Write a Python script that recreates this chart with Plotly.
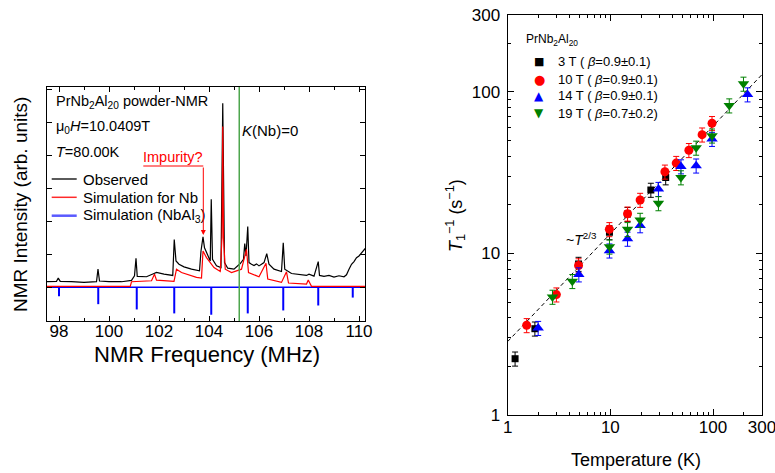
import plotly.graph_objects as go

W, H = 775, 473
FONT = "Liberation Sans, Arial, sans-serif"

# ---------------- Left panel: NMR spectrum ----------------
OBS_FREQ = [97.5, 97.9, 97.97, 98.05, 98.5, 99.0, 99.5, 99.56, 99.62, 100.0, 100.5, 100.9,
            101.02, 101.08, 101.13, 101.5, 101.8, 101.9, 102.2, 102.55, 102.61, 102.68, 102.8,
            103.0, 103.3, 103.62, 103.68, 103.76, 103.82, 103.95, 104.05, 104.09, 104.14, 104.3,
            104.48, 104.55, 104.62, 104.75, 105.0, 105.25, 105.38, 105.43, 105.48, 105.55, 105.6,
            105.7, 105.8, 105.9, 106.0, 106.1, 106.2, 106.31, 106.4, 106.6, 106.9, 106.97, 107.03,
            107.3, 107.6, 107.9, 108.0, 108.2, 108.37, 108.42, 108.6, 108.8, 109.0, 109.2, 109.4,
            109.5, 109.6, 109.7, 109.8, 109.9, 110.0, 110.1, 110.25]
OBS_INT = [0.17, 0.18, 0.28, 0.18, 0.17, 0.15, 0.17, 0.55, 0.19, 0.17, 0.17, 0.21,
           0.35, 0.88, 0.33, 0.32, 0.42, 0.45, 0.40, 0.36, 1.45, 0.80, 0.70,
           0.62, 0.55, 0.50, 1.10, 1.53, 1.20, 0.95, 0.80, 2.67, 0.85, 0.65,
           0.60, 5.58, 0.75, 0.58, 0.55, 0.72, 0.85, 1.33, 0.95, 1.84, 0.75,
           0.70, 0.66, 0.71, 0.65, 0.70, 0.75, 1.02, 0.70, 0.55, 0.48, 1.35, 0.55,
           0.42, 0.38, 0.36, 0.40, 0.34, 0.78, 0.36, 0.33, 0.36, 0.31, 0.35, 0.32,
           0.38, 0.55, 0.70, 0.78, 0.90, 0.95, 1.05, 1.18]

SIM_FREQ = [97.5, 100.85, 100.9, 101.7, 101.82, 101.9, 102.6, 102.7, 102.9, 103.5, 103.7,
            103.76, 103.9, 104.2, 104.45, 104.52, 104.55, 104.58, 104.65, 104.9, 105.3, 105.5,
            105.58, 106.0, 106.28, 106.35, 106.9, 107.1, 107.18, 107.9, 107.97, 108.1, 110.25]
SIM_INT = [0.03, 0.03, 0.17, 0.20, 0.40, 0.22, 0.18, 0.55, 0.45, 0.30, 0.28,
           1.10, 0.90, 0.60, 0.48, 1.50, 4.87, 1.50, 0.55, 0.45, 0.55, 1.15,
           0.45, 0.32, 0.73, 0.25, 0.15, 0.47, 0.13, 0.10, 0.22, 0.03, 0.03]

NBAL3_FREQ = [98.0, 99.57, 101.11, 102.61, 104.09, 105.55, 106.97, 108.37, 109.75]
NBAL3_INT = [0.27, 0.51, 0.67, 0.79, 0.83, 0.79, 0.70, 0.55, 0.31]

K0_FREQ = 105.21
FREQ_TICKS = [98, 100, 102, 104, 106, 108, 110]

# ---------------- Right panel: 1/T1 vs T ----------------
T_3T = [1.18, 1.84, 4.9, 9.8, 14.7, 24.8, 34.6]
R_3T = [2.23, 3.42, 8.6, 13.5, 17.5, 24.7, 29.5]
T_10T = [1.53, 2.98, 4.9, 9.78, 14.7, 19.5, 34.0, 43.8, 58.2, 78.3, 97.8]
R_10T = [3.59, 5.56, 8.42, 14.1, 17.6, 21.4, 32.0, 36.2, 43.5, 54.3, 63.9]
T_14T = [1.98, 4.93, 9.8, 14.7, 19.5, 29.4, 48.7, 68.5, 97.8, 217]
R_14T = [3.45, 7.4, 10.4, 12.3, 14.9, 25.0, 34.5, 34.9, 51.0, 96.2]
T_19T = [2.73, 4.26, 9.8, 14.7, 19.5, 29.4, 48.7, 68.5, 97.8, 144, 198]
R_19T = [5.38, 6.73, 11.0, 14.1, 16.1, 20.4, 29.5, 45.0, 53.5, 82.2, 112]
ERR_PCT = 10
FIT_T = [1, 300]
FIT_R = [2.85, 127.8]
LOG_TICKS = [1, 10, 100, 300]
LOG_TICKTEXT = ["1", "10", "100", "300"]
LOG_MINOR = [2, 3, 4, 5, 6, 7, 8, 9, 20, 30, 40, 50, 60, 70, 80, 90, 200]

LEGEND_LABELS = ["3 T ( <i>β</i>=0.9±0.1)", "10 T ( <i>β</i>=0.9±0.1)",
                 "14 T ( <i>β</i>=0.9±0.1)", "19 T ( <i>β</i>=0.7±0.2)"]


def px(x):
    return x / W


def py(y):
    return 1 - y / H


fig = go.Figure()

# blue zero line + sticks
stick_x, stick_y = [], []
for f, h in zip(NBAL3_FREQ, NBAL3_INT):
    stick_x += [f, f, None]
    stick_y += [0, -h, None]
fig.add_trace(go.Scatter(x=[OBS_FREQ[0], OBS_FREQ[-1]], y=[0, 0], mode="lines",
                         line=dict(color="#0000ff", width=1.5), xaxis="x", yaxis="y",
                         showlegend=False, hoverinfo="skip"))
fig.add_trace(go.Scatter(x=stick_x, y=stick_y, mode="lines",
                         line=dict(color="#0000ff", width=2), xaxis="x", yaxis="y",
                         showlegend=False))
fig.add_trace(go.Scatter(x=OBS_FREQ, y=OBS_INT, mode="lines",
                         line=dict(color="black", width=1.2), xaxis="x", yaxis="y",
                         showlegend=False))
fig.add_trace(go.Scatter(x=SIM_FREQ, y=SIM_INT, mode="lines",
                         line=dict(color="#ff0000", width=1.2), xaxis="x", yaxis="y",
                         showlegend=False))

# right panel
fig.add_trace(go.Scatter(x=FIT_T, y=FIT_R, mode="lines",
                         line=dict(color="black", width=1, dash="4px,3px"),
                         xaxis="x2", yaxis="y2", showlegend=False))

series = [
    (T_3T, R_3T, "black", "square", 7),
    (T_10T, R_10T, "#ff0000", "circle", 9),
    (T_14T, R_14T, "#0000ff", "triangle-up", 10),
    (T_19T, R_19T, "#008000", "triangle-down", 10),
]
for t, r, c, sym, sz in series:
    fig.add_trace(go.Scatter(x=t, y=r, mode="markers",
                             marker=dict(color=c, symbol=sym, size=sz, line=dict(width=0)),
                             error_y=dict(type="percent", value=ERR_PCT, color=c,
                                          thickness=1, width=3),
                             xaxis="x2", yaxis="y2", showlegend=False))

axis_common = dict(showline=True, linecolor="black", linewidth=1.2, mirror="ticks",
                   ticks="inside", tickcolor="black", tickwidth=1, showgrid=False,
                   zeroline=False, automargin=False, ticklabeloverflow="allow")

fig.update_layout(
    width=W, height=H,
    margin=dict(l=0, r=0, t=0, b=0, autoexpand=False),
    paper_bgcolor="white", plot_bgcolor="white",
    font=dict(family=FONT, color="black"),
    showlegend=False,
    xaxis=dict(domain=[px(47), px(365)], range=[97.52, 110.24], anchor="y",
               tickvals=FREQ_TICKS, ticklen=5, ticklabelstandoff=-6,
               minor=dict(dtick=1, tick0=97, ticks="inside", ticklen=3,
                          tickcolor="black"),
               tickfont=dict(size=17, family=FONT), **axis_common),
    yaxis=dict(domain=[py(321), py(87)], range=[-1.02, 6.07], anchor="x",
               dtick=1, ticklen=5, showticklabels=False, **axis_common),
    xaxis2=dict(domain=[px(507.7), px(762)], type="log", range=[0, 2.4771],
                anchor="y2", tickvals=LOG_TICKS, ticktext=LOG_TICKTEXT,
                ticklen=6, ticklabelstandoff=-4,
                minor=dict(tickvals=LOG_MINOR, ticks="inside", ticklen=3, tickcolor="black"),
                tickfont=dict(size=17, family=FONT), **axis_common),
    yaxis2=dict(domain=[py(415), py(14.7)], type="log", range=[0, 2.4771],
                anchor="x2", tickvals=LOG_TICKS, ticktext=LOG_TICKTEXT,
                ticklen=6, ticklabelstandoff=3,
                minor=dict(tickvals=LOG_MINOR, ticks="inside", ticklen=3, tickcolor="black"),
                tickfont=dict(size=17, family=FONT), **axis_common),
)

# K(Nb)=0 vertical line
fig.add_shape(type="line", xref="x", yref="y domain", x0=K0_FREQ, x1=K0_FREQ, y0=0, y1=1,
              line=dict(color="#4ea64e", width=1.5))

ann = []


def text(t, x, y, size, xanchor="left", color="black", angle=0):
    ann.append(dict(text=t, x=px(x), y=py(y), xref="paper", yref="paper", showarrow=False,
                    xanchor=xanchor, yanchor="middle", textangle=angle,
                    font=dict(size=size, color=color, family=FONT)))


text("PrNb<sub>2</sub>Al<sub>20</sub> powder-NMR", 54, 101.7, 14.5)
text("μ<sub>0</sub><i>H</i>=10.0409T", 54, 126.7, 14.5)
text("<i>T</i>=80.00K", 54, 151.7, 14.5)
text("<i>K</i>(Nb)=0", 240, 130, 15)
text("Impurity?", 173, 157.3, 14.5, xanchor="center", color="#ff0000")
text("Observed", 81, 179, 15)
text("Simulation for Nb", 81, 197.3, 15)
text("Simulation (NbAl<sub>3</sub>)", 81, 215.7, 15)
text("NMR Frequency (MHz)", 207, 354, 22, xanchor="center")
text("NMR Intensity (arb. units)", 20, 205, 19, xanchor="center", angle=-90)

# right panel texts
text("PrNb<sub>2</sub>Al<sub>20</sub>", 524, 40, 12)
ys = [61.7, 79, 96, 113]
syms = [("■", "black", 11), ("●", "#ff0000", 13), ("▲", "#0000ff", 12), ("▼", "#008000", 12)]
for lab, yy, (s, c, sz) in zip(LEGEND_LABELS, ys, syms):
    ann.append(dict(text=s, x=px(539), y=py(yy), xref="paper", yref="paper", showarrow=False,
                    xanchor="center", yanchor="middle",
                    font=dict(size=sz, color=c, family="DejaVu Sans")))
    text(lab, 556, yy, 13)
text("~<i>T</i><sup>2/3</sup>", 581.7, 239.3, 14, xanchor="center")
text("Temperature (K)", 635.5, 460, 18, xanchor="center")
text("<i>T</i><sub>1</sub><sup>−1</sup> (s<sup>−1</sup>)", 455, 215, 18, xanchor="center", angle=-90)

# impurity bracket + arrow
ann.append(dict(text="", x=px(203.3), y=py(235), xref="paper", yref="paper", showarrow=True,
                ax=0, ay=-69, arrowhead=2, arrowsize=1, arrowwidth=1, arrowcolor="#ff0000",
                standoff=0))
fig.add_shape(type="line", xref="paper", yref="paper", x0=px(143.3), x1=px(203.3),
              y0=py(166), y1=py(166), line=dict(color="#ff0000", width=1))

# left legend lines
for yy, c, w in [(179, "black", 1.3), (197.3, "#ff2a2a", 1.5), (215.7, "#5a5aff", 2.5)]:
    fig.add_shape(type="line", xref="paper", yref="paper", x0=px(51.7), x1=px(76.7),
                  y0=py(yy), y1=py(yy), line=dict(color=c, width=w))

fig.update_layout(annotations=ann)
fig.write_html("out.html",
               config={"displayModeBar": False},
               post_script="document.body.style.margin='0px';"
                           "document.body.style.overflow='hidden';")
